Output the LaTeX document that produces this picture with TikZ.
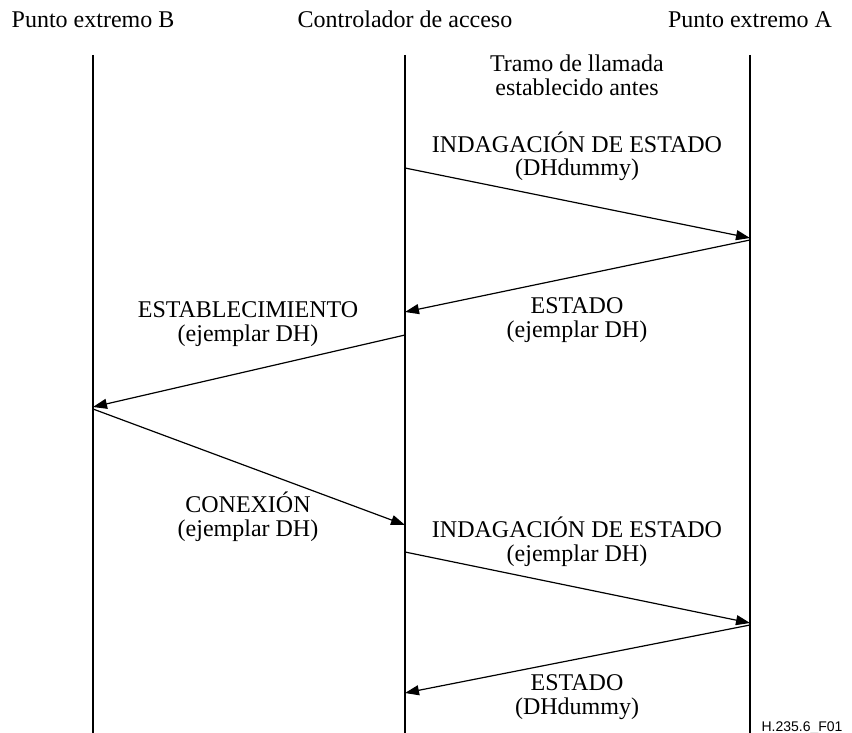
\documentclass[tikz,border=0pt]{standalone}
\usepackage{fontspec}
\setmainfont{Liberation Serif}
\newfontfamily\figsans{Liberation Sans}
\usetikzlibrary{arrows.meta, positioning}

\begin{document}
\begin{tikzpicture}[x=1pt, y=-1pt,
    font=\fontsize{24}{24}\selectfont,
    lifeline/.style={line width=2.5pt},
    msg/.style={line width=1.2pt, -{Triangle[length=14pt,width=10pt]}},
    lbl/.style={align=center, inner sep=0pt, anchor=base}]
    \useasboundingbox (0,0) rectangle (852,733);
    % headers and lifelines
    \node[lbl] (hB) at (93,28) {Punto extremo B};
    \node[lbl] (hC) at (405,28) {Controlador de acceso};
    \node[lbl] (hA) at (750,28) {Punto extremo A};
    \coordinate (B0) at (93,55);   \coordinate (B1) at (93,733);
    \coordinate (C0) at (405,55);  \coordinate (C1) at (405,733);
    \coordinate (A0) at (750,55);  \coordinate (A1) at (750,733);
    \draw[lifeline] (B0) -- (B1) (C0) -- (C1) (A0) -- (A1);
    \node[lbl] (tramo) at (577,96) {Tramo de llamada\\establecido antes};
    % message end points
    \coordinate (m1s) at (405,168); \coordinate (m1e) at (750,238);
    \coordinate (m2s) at (750,240); \coordinate (m2e) at (405,312);
    \coordinate (m3s) at (405,335); \coordinate (m3e) at (93,407);
    \coordinate (m4s) at (93,409);  \coordinate (m4e) at (405,525);
    \coordinate (m5s) at (405,552); \coordinate (m5e) at (750,623);
    \coordinate (m6s) at (750,625); \coordinate (m6e) at (405,693);
    \draw[msg] (m1s) -- (m1e);
    \draw[msg] (m2s) -- (m2e);
    \draw[msg] (m3s) -- (m3e);
    \draw[msg] (m4s) -- (m4e);
    \draw[msg] (m5s) -- (m5e);
    \draw[msg] (m6s) -- (m6e);
    % message labels (base = last line)
    \node[lbl] (ind1) at (577,176) {INDAGACIÓN DE ESTADO\\(DHdummy)};
    \node[lbl] (est1) at (577,337) {ESTADO\\(ejemplar DH)};
    \node[lbl] (estab) at (248,341) {ESTABLECIMIENTO\\(ejemplar DH)};
    \node[lbl] (conex) at (248,536) {CONEXIÓN\\(ejemplar DH)};
    \node[lbl] (ind2) at (577,561) {INDAGACIÓN DE ESTADO\\(ejemplar DH)};
    \node[lbl] (est2) at (577,714) {ESTADO\\(DHdummy)};
    \node[lbl, font=\figsans\fontsize{14}{16}\selectfont] (fig) at (802,731) {H.235.6\_F01};
\end{tikzpicture}
\end{document}
